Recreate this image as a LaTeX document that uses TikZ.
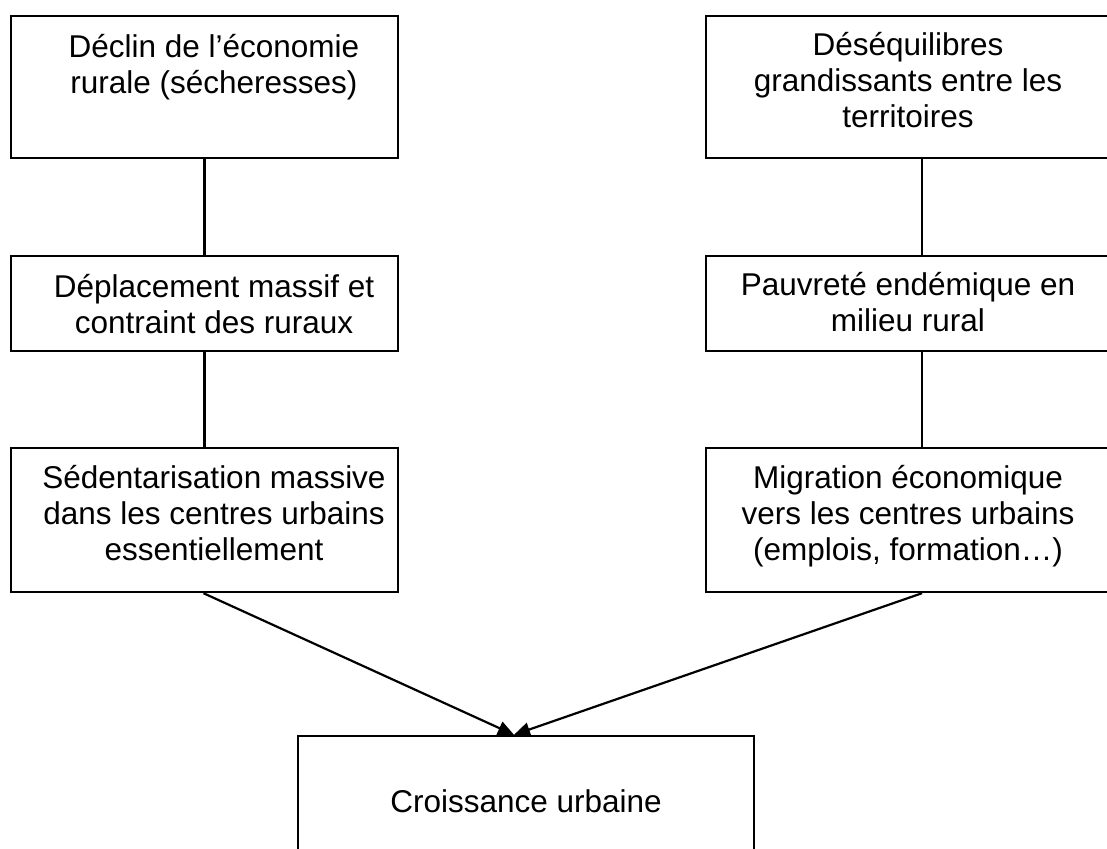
\documentclass[tikz,border=0pt]{standalone}
\usepackage{fontspec}
\setmainfont{Liberation Sans}
\usetikzlibrary{arrows.meta}
\tikzset{
  box/.style={draw=black, line width=2.4pt, fill=none, inner sep=0pt},
  txt/.style={anchor=base, align=center, inner sep=0pt, font=\fontsize{31.5}{36}\selectfont},
  conn/.style={draw=black, line width=2.2pt},
  arr/.style={conn, -{Triangle[length=16pt,width=14pt]}, shorten >=0pt}
}
\begin{document}
\begin{tikzpicture}[x=1pt,y=-1pt]
\useasboundingbox (0,0) rectangle (1107,848);
\clip (0,0) rectangle (1107,848);
\fill[white] (0,0) rectangle (1107,848);
% left column
\node[box, minimum width=387pt, minimum height=142pt] (l1) at (204.5,87) {};
\node[box, minimum width=387pt, minimum height=95pt] (l2) at (204.5,303.5) {};
\node[box, minimum width=387pt, minimum height=144pt] (l3) at (204.5,520) {};
% right column
\node[box, minimum width=404pt, minimum height=142pt] (r1) at (908,87) {};
\node[box, minimum width=404pt, minimum height=95pt] (r2) at (908,303.5) {};
\node[box, minimum width=404pt, minimum height=144pt] (r3) at (908,520) {};
% bottom
\node[box, minimum width=456pt, minimum height=144pt] (c) at (526,808) {};
% texts (base = baseline of last line)
\node[txt] (t1) at (214,93.5) {Déclin de l’économie\\rurale (sécheresses)};
\node[txt] (t2) at (214,333) {Déplacement massif et\\contraint des ruraux};
\node[txt] (t3) at (214,560) {Sédentarisation massive\\dans les centres urbains\\essentiellement};
\node[txt] (t4) at (908,128) {Déséquilibres\\grandissants entre les\\territoires};
\node[txt] (t5) at (908,331) {Pauvreté endémique en\\milieu rural};
\node[txt] (t6) at (908,560) {Migration économique\\vers les centres urbains\\(emplois, formation…)};
\node[txt] (t7) at (526,812) {Croissance urbaine};
% connectors
\draw[conn] (l1.south) -- (l2.north);
\draw[conn] (l2.south) -- (l3.north);
\draw[conn] ([xshift=14pt]r1.south) -- ([xshift=14pt]r2.north);
\draw[conn] ([xshift=14pt]r2.south) -- ([xshift=14pt]r3.north);
\coordinate (tip) at ([xshift=-12pt]c.north);
\draw[arr] ([xshift=-1pt]l3.south) -- (tip);
\draw[arr] ([xshift=14pt]r3.south) -- (tip);
\end{tikzpicture}
\end{document}
